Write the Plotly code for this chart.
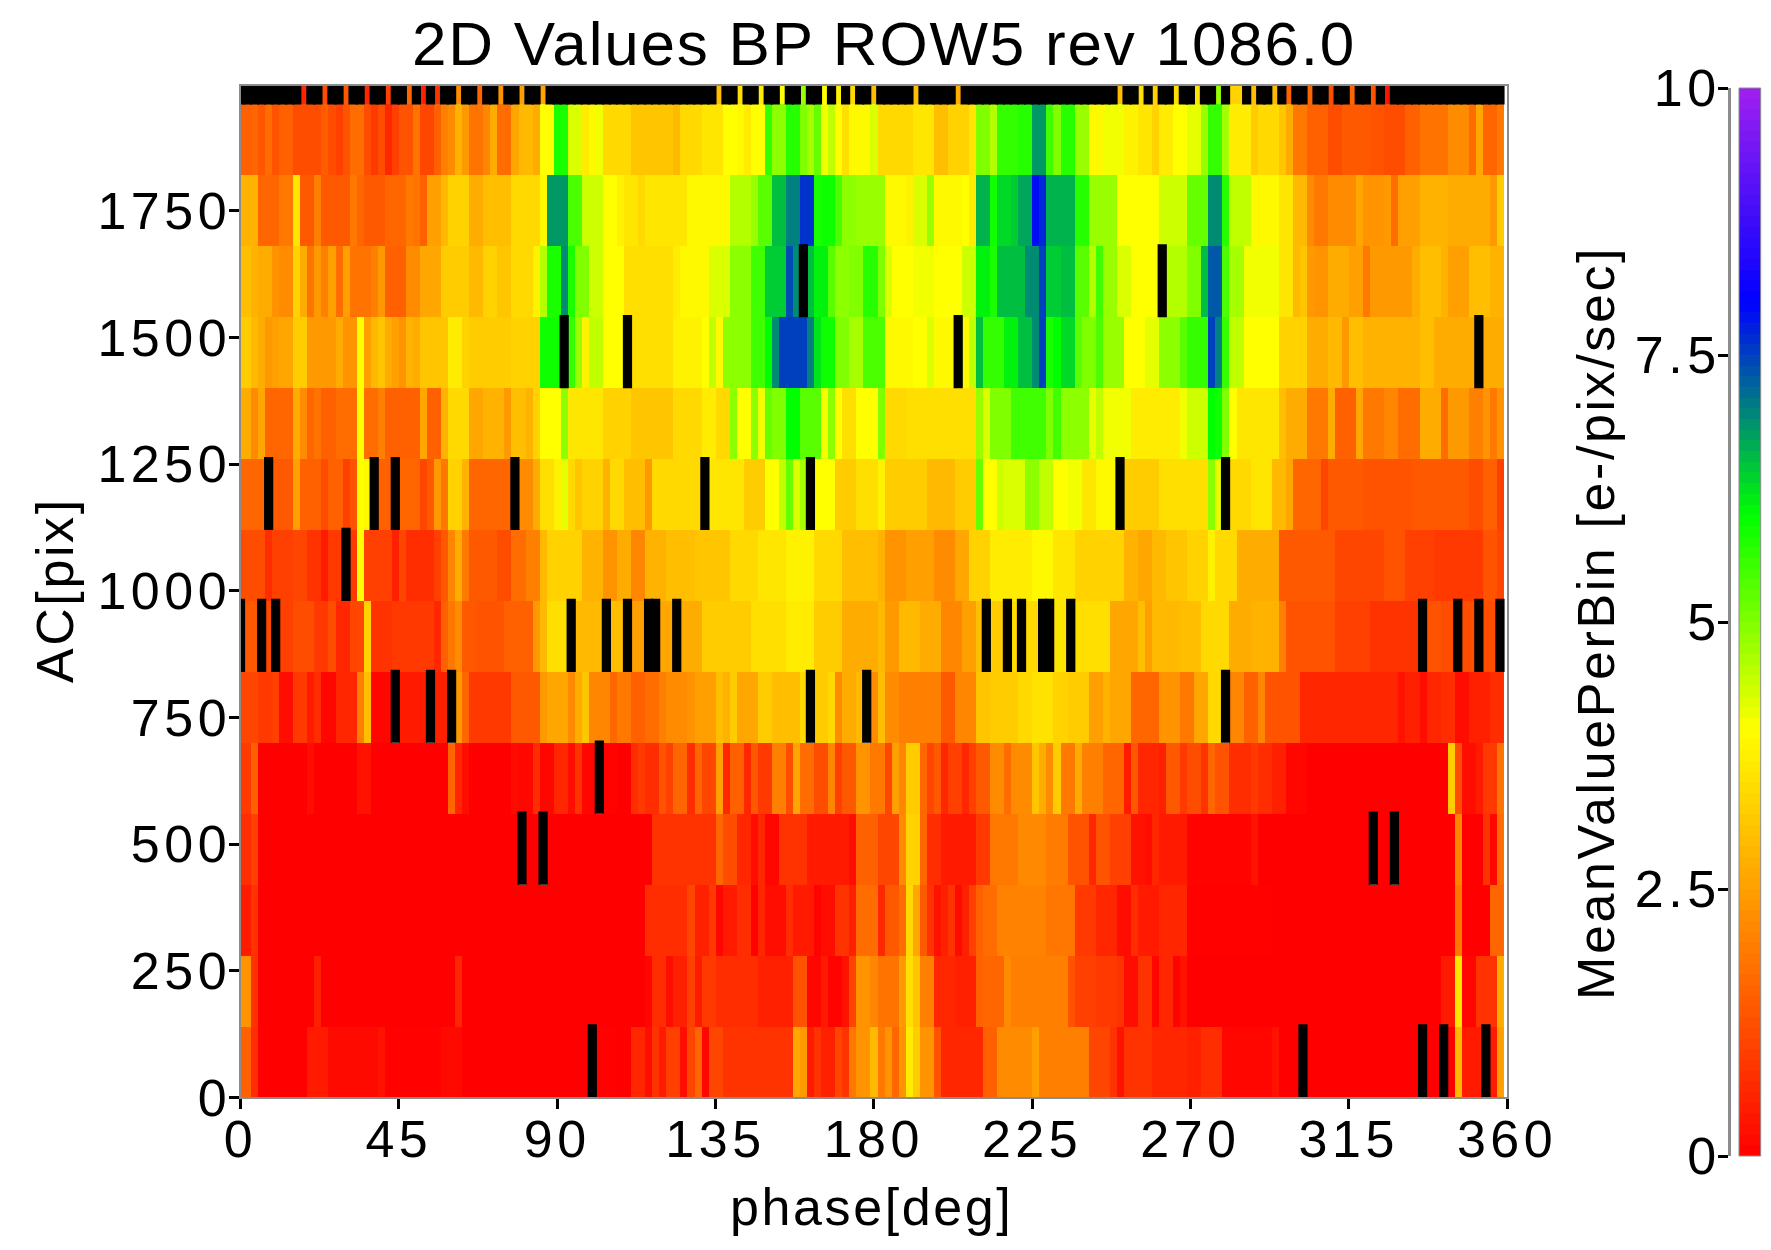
import numpy as np
import plotly.graph_objects as go

# Heat-map grid: 180 phase bins of 2 deg, AC rows of 140 pix
phase_bins = list(range(0, 360, 2))
ac_step = 140
title_text = "2D Values BP ROW5 rev 1086.0"
x_title = "phase[deg]"
y_title = "AC[pix]"
scale_title = "MeanValuePerBin [e-/pix/sec]"

# Every row is a list of (first phase bin, mean value); the value holds until the next entry
row_00 = [(0,1.5),(2,0.7),(3,0),(10,0.4),(13,0.15),(20,0.3),(21,0.03),(29,0.15),(32,0),(51,0.03),(54,0),(56,0.6),(58,0.2),(59,0.8),(60,0.4),(61,1.0),(63,0.2),(64,1.1),(65,1.6),(66,0.1),(67,1.1),(69,0.8),(79,2.6),(80,2.4),(81,0.4),(82,0.8),(83,0.5),(85,1.1),(86,0.8),(87,1.9),(88,2.3),(90,2.9),(91,1.9),(92,2.3),(93,1.6),(94,2.3),(95,3.7),(96,3.2),(97,2.3),(99,1.3),(100,0.6),(106,1.5),(108,2.2),(113,2.5),(114,2.0),(121,1.1),(124,0.8),(125,0.3),(126,0.8),(130,0.6),(135,0.5),(137,0.7),(140,0.1),(147,0.3),(148,0),(173,2.9),(174,0.4),(179,2.5)]
row_01 = [(0,2.3),(2,0.8),(3,0),(11,0.5),(12,0),(31,0.6),(32,0),(58,0.1),(59,0.7),(61,0.2),(62,0.5),(64,1.0),(65,0.4),(66,0.9),(68,0.7),(74,0.5),(79,1.3),(81,0.1),(83,0.4),(84,0.05),(86,0.3),(87,1.1),(88,2.3),(90,2.1),(91,1.8),(94,2.4),(95,3.5),(96,3.1),(97,2.0),(99,0.6),(102,0.5),(105,1.5),(106,1.6),(109,2.2),(110,2.0),(118,1.3),(119,1.0),(122,0.9),(125,0.8),(126,0.2),(128,0.8),(130,0.1),(131,0.6),(133,0.05),(134,0.3),(135,0),(171,0.4),(173,3.6),(174,0.1),(176,0.8),(179,2.7)]
row_02 = [(0,0.4),(2,0.8),(3,0),(58,0.7),(64,1.1),(65,0.5),(67,0.9),(68,0.1),(69,0.4),(71,0.7),(73,0.03),(74,0.6),(75,0.2),(78,0.7),(79,0.4),(82,0.05),(83,0.2),(85,0.8),(87,0.5),(88,1.7),(91,0.6),(92,1.4),(94,1.7),(95,3.4),(96,2.6),(97,1.4),(98,0.8),(99,0.3),(100,0.5),(101,0.8),(102,0.15),(103,0.5),(104,1.0),(105,1.5),(106,1.7),(108,2.05),(115,1.85),(119,0.9),(122,0.6),(125,0.2),(127,0.7),(128,0.4),(131,0.6),(135,0.03),(147,0),(173,1.9),(174,0),(178,1.6)]
row_03 = [(0,0.7),(2,1.0),(3,0),(59,0.8),(68,1.6),(69,1.2),(71,0.6),(73,0.2),(74,0.6),(75,0.1),(77,0.8),(81,0.4),(87,0.2),(88,1.5),(91,1.1),(94,2.2),(95,3.3),(97,1.6),(98,0.7),(100,0.4),(105,0.9),(107,1.9),(111,2.15),(115,1.95),(118,1.3),(121,0.6),(122,1.3),(124,1.0),(127,0.3),(129,0.2),(130,0.6),(131,0.4),(135,0.05),(144,0.3),(145,0),(173,2.1),(174,0),(177,0.8),(178,0.1),(179,1.7)]
row_04 = [(0,0.9),(2,1.5),(3,0),(10,0.2),(11,0),(17,0.3),(19,0),(30,1.6),(31,0.6),(32,0.2),(33,0),(39,0.15),(40,0.1),(42,0.7),(43,0.1),(45,0.6),(47,0.2),(48,0.8),(49,0.1),(52,0.05),(54,0),(56,0.7),(57,0.9),(58,0.7),(60,1.3),(61,1.0),(62,1.6),(64,0.7),(65,1.6),(66,1.1),(68,2.5),(69,0.6),(70,1.5),(72,0.6),(73,1.4),(74,0.9),(76,2.0),(78,1.2),(79,2.6),(80,1.7),(82,1.2),(84,2.1),(85,1.0),(86,1.4),(88,2.3),(90,1.9),(92,1.1),(93,2.5),(94,2.1),(95,3.2),(97,1.6),(98,1.1),(99,1.4),(100,0.6),(101,1.0),(103,0.6),(104,1.0),(105,1.4),(107,2.2),(109,1.7),(110,2.2),(113,3.1),(114,2.7),(115,2.2),(116,3.2),(117,1.9),(119,2.7),(120,2.0),(123,1.6),(126,0.4),(127,1.4),(128,0.6),(131,0.5),(132,1.4),(134,0.9),(135,1.2),(137,0.8),(138,1.6),(139,1.3),(141,0.7),(144,0.9),(145,0.7),(147,0.5),(149,0.1),(152,0),(172,3.2),(173,1.2),(174,0.2),(176,0.4),(177,0.9),(179,1.8)]
row_05 = [(0,1.1),(3,0.9),(5,1.0),(6,0.2),(8,0.9),(10,0.4),(11,0.7),(12,0.1),(14,0.6),(17,2.0),(18,3.0),(19,0.1),(23,0.4),(28,0.5),(31,2.4),(32,1.6),(33,0.9),(39,1.4),(43,2.4),(44,2.6),(47,2.2),(48,2.7),(49,3.1),(50,2.1),(53,1.6),(54,1.9),(56,1.5),(58,1.7),(60,2.0),(61,2.2),(64,2.3),(65,2.5),(68,3.0),(69,2.8),(70,3.2),(71,2.6),(74,3.2),(76,3.0),(80,3.4),(82,3.2),(84,3.4),(85,2.2),(86,2.7),(88,2.9),(90,2.2),(91,3.0),(92,2.2),(94,2.0),(100,1.4),(102,2.1),(105,3.1),(107,3.2),(111,3.4),(113,3.55),(116,3.3),(118,3.2),(121,2.5),(123,2.8),(124,2.6),(127,1.6),(131,2.3),(134,1.9),(136,2.6),(138,3.4),(141,2.1),(143,1.5),(145,2.1),(146,1.3),(151,0.6),(165,0.3),(166,0.5),(168,0.2),(169,0.6),(171,0.7),(173,0.2),(175,0.5),(178,0.7)]
row_06 = [(0,1.4),(4,1.1),(6,1.0),(8,1.2),(11,0.9),(13,1.2),(14,0.6),(16,1.1),(18,3.3),(19,0.8),(22,0.9),(28,0.6),(29,1.5),(30,1.9),(31,2.2),(32,1.4),(34,1.3),(38,1.5),(42,2.4),(43,2.9),(44,3.5),(48,2.9),(53,3.0),(56,2.5),(60,2.6),(63,2.7),(66,3.2),(73,3.5),(78,3.7),(82,3.2),(86,2.7),(91,2.9),(92,2.4),(94,2.9),(97,2.7),(100,2.1),(103,2.5),(105,3.0),(107,3.2),(110,3.5),(112,3.4),(116,3.6),(119,3.5),(124,2.6),(128,3.0),(129,2.5),(130,2.9),(134,3.0),(137,3.4),(141,2.7),(144,2.8),(148,2.0),(149,1.3),(156,1.0),(161,0.8),(169,1.3),(171,1.2)]
row_07 = [(0,1.2),(4,0.7),(5,1.0),(8,1.1),(10,0.8),(12,0.4),(13,0.9),(16,0.9),(17,4.0),(18,1.0),(22,0.5),(23,1.1),(24,0.7),(28,1.0),(29,1.4),(30,2.1),(31,2.7),(32,1.9),(33,1.4),(37,1.2),(39,1.7),(41,2.0),(43,2.9),(44,3.3),(49,2.8),(52,2.3),(54,2.7),(56,2.1),(58,2.8),(61,3.0),(65,3.1),(70,3.4),(74,3.6),(78,3.8),(82,3.4),(86,3.0),(91,2.8),(92,2.3),(95,2.5),(99,2.2),(102,2.6),(104,3.3),(107,3.7),(113,3.9),(116,3.6),(119,3.3),(126,2.8),(128,2.6),(130,2.9),(132,3.1),(135,3.3),(138,3.8),(139,3.4),(142,2.7),(148,1.4),(156,1.1),(163,1.3),(166,1.0),(170,0.9),(177,1.3),(179,1.1)]
row_08 = [(0,1.6),(5,1.4),(8,2.5),(9,1.5),(12,1.2),(13,1.5),(15,1.0),(16,1.3),(17,4.0),(18,3.9),(20,1.5),(23,1.6),(26,1.1),(27,1.4),(28,2.4),(29,1.9),(30,3.3),(32,2.8),(33,1.6),(40,2.2),(42,2.7),(43,3.5),(45,3.8),(46,4.2),(47,3.4),(48,3.1),(49,3.3),(52,2.8),(53,3.4),(55,3.0),(58,2.4),(59,3.4),(67,3.6),(72,3.2),(75,4.0),(77,4.5),(78,5.2),(79,4.3),(80,4.7),(82,4.0),(85,3.2),(88,3.5),(91,3.8),(92,3.2),(98,2.9),(102,3.2),(105,5.2),(106,4.0),(108,4.4),(109,4.3),(112,4.9),(114,4.5),(116,4.0),(118,4.1),(120,3.6),(122,3.9),(126,3.2),(131,3.5),(138,4.9),(139,4.2),(141,3.4),(144,3.6),(147,2.9),(149,2.6),(150,1.6),(154,1.1),(155,1.4),(160,1.3),(167,1.4),(175,1.2),(177,1.5),(179,1.0)]
row_09 = [(0,2.7),(2,2.2),(3,2.6),(4,1.6),(8,2.7),(9,2.2),(10,1.6),(11,1.8),(12,1.5),(14,1.7),(17,4.0),(18,1.7),(20,2.0),(21,1.5),(26,2.6),(27,1.5),(29,2.8),(30,3.4),(33,2.6),(35,2.8),(38,2.4),(39,3.0),(41,2.8),(42,3.3),(43,4.0),(46,4.9),(47,3.6),(52,3.3),(56,3.1),(62,3.4),(66,3.7),(68,3.4),(70,4.9),(71,4.0),(73,4.9),(74,4.1),(75,5.2),(76,5.0),(78,6.0),(80,5.3),(83,4.1),(84,4.9),(85,4.0),(86,3.5),(88,4.0),(91,5.0),(92,3.4),(95,3.5),(105,4.8),(106,4.3),(107,5.0),(110,5.5),(115,5.0),(116,5.5),(117,4.9),(121,4.2),(122,4.5),(123,4.1),(127,3.7),(134,4.1),(135,4.4),(138,6.0),(139,5.9),(140,5.0),(141,4.0),(142,3.6),(148,3.0),(149,2.7),(152,1.9),(155,2.7),(156,1.5),(159,2.6),(160,1.9),(163,2.1),(165,1.7),(168,2.7),(171,1.7),(172,2.4),(175,2.0),(177,2.3),(178,1.9),(179,2.3)]
row_10 = [(0,3.2),(2,2.9),(3,2.7),(4,2.4),(5,2.5),(6,2.6),(8,3.2),(10,2.4),(14,2.7),(15,2.3),(17,4.0),(18,2.5),(19,2.9),(20,3.1),(21,2.7),(22,2.5),(23,2.3),(24,2.8),(25,2.7),(26,3.1),(30,3.7),(32,3.3),(33,3.2),(39,3.3),(43,5.9),(47,5.6),(48,4.8),(49,3.8),(50,4.5),(52,4.0),(56,3.5),(62,3.8),(66,4.0),(67,4.5),(68,3.9),(69,4.9),(73,5.5),(75,6.0),(76,6.9),(77,7.5),(81,7.0),(82,6.2),(83,5.9),(85,5.0),(87,4.7),(89,5.4),(92,3.9),(96,4.0),(98,4.3),(99,3.9),(104,4.5),(105,6.5),(106,5.6),(109,6.1),(111,6.5),(113,6.9),(114,7.5),(115,5.8),(116,6.0),(117,6.3),(119,5.3),(120,5.0),(122,5.4),(123,4.8),(126,4.0),(129,4.2),(131,4.9),(134,5.3),(135,5.6),(138,7.5),(139,7.0),(140,5.6),(141,4.5),(143,4.0),(148,3.3),(152,2.7),(155,2.9),(157,2.4),(158,3.0),(160,2.8),(168,3.0),(170,2.7)]
row_11 = [(0,3.0),(2,2.8),(3,2.7),(5,2.3),(6,2.2),(8,3.3),(9,2.7),(10,1.8),(11,2.4),(12,2.0),(13,2.5),(14,1.7),(15,2.5),(16,1.8),(19,2.0),(20,2.4),(21,1.5),(24,2.2),(26,2.6),(29,3.2),(33,2.9),(35,3.3),(37,3.1),(39,3.4),(42,3.8),(43,4.6),(44,5.8),(46,6.9),(47,5.8),(48,5.0),(50,4.4),(52,4.0),(55,3.5),(62,3.7),(63,3.9),(67,4.3),(70,4.9),(73,5.5),(75,6.4),(78,7.4),(79,6.9),(81,6.5),(82,6.1),(84,5.3),(85,4.9),(87,5.0),(89,5.7),(91,5.0),(92,4.3),(93,4.0),(96,4.1),(99,4.0),(103,4.4),(105,6.1),(107,5.8),(108,6.5),(112,6.9),(114,7.5),(115,6.4),(117,6.5),(119,5.3),(121,4.6),(122,5.5),(123,4.8),(125,4.3),(127,4.0),(132,4.6),(135,5.0),(137,6.5),(138,7.3),(140,5.4),(141,4.7),(143,4.1),(148,3.6),(150,2.9),(151,3.1),(152,2.4),(153,2.3),(155,2.7),(158,2.5),(160,1.9),(161,2.4),(167,2.7),(168,3.0),(171,2.8),(172,2.5),(175,3.0),(178,2.8)]
row_12 = [(0,2.8),(3,1.6),(6,1.9),(8,3.6),(9,1.4),(11,2.0),(12,1.4),(16,1.9),(17,1.6),(18,1.4),(21,1.6),(24,1.9),(25,1.8),(26,1.5),(27,2.5),(29,2.9),(30,3.3),(33,2.7),(35,3.0),(39,3.4),(43,3.9),(44,6.8),(47,5.4),(49,4.4),(52,4.0),(54,3.8),(55,3.6),(57,3.4),(58,3.6),(64,3.9),(70,4.6),(73,4.8),(74,5.3),(76,6.5),(78,7.0),(80,7.6),(82,5.8),(83,5.9),(85,5.4),(86,4.9),(88,4.8),(92,3.9),(95,3.8),(96,4.3),(98,4.8),(99,3.9),(103,4.0),(104,3.7),(105,6.6),(107,5.9),(108,6.3),(110,6.4),(111,6.7),(113,7.9),(114,7.7),(115,6.6),(119,5.7),(121,4.8),(125,4.0),(131,4.4),(135,5.2),(138,6.9),(140,5.7),(141,4.5),(144,3.9),(148,3.6),(150,2.9),(152,2.2),(153,1.9),(155,2.2),(159,2.6),(160,2.3),(163,2.4),(164,1.7),(165,2.5),(168,2.8),(172,2.7),(178,2.4),(179,3.2)]
row_13 = [(0,1.5),(2,1.6),(3,1.35),(4,1.7),(5,1.3),(6,1.5),(8,1.2),(12,1.45),(13,1.2),(14,1.0),(15,1.3),(16,1.7),(18,1.2),(19,0.9),(20,1.2),(21,0.6),(22,1.0),(23,1.3),(25,1.8),(26,1.1),(28,1.5),(29,2.0),(30,2.2),(31,2.8),(32,2.4),(33,1.8),(35,2.1),(36,2.7),(37,1.7),(39,2.6),(40,2.9),(42,2.7),(43,4.0),(45,5.8),(47,4.3),(49,3.7),(50,3.9),(51,4.1),(52,3.4),(56,3.1),(62,2.9),(63,3.4),(66,3.6),(69,4.0),(71,3.9),(72,3.7),(73,4.0),(75,5.6),(76,4.9),(78,5.7),(80,5.0),(81,4.7),(82,5.2),(83,4.1),(84,4.5),(85,4.0),(86,3.5),(87,3.9),(90,4.3),(91,3.4),(96,3.6),(99,3.0),(101,3.3),(104,3.6),(105,5.0),(107,4.6),(108,5.6),(111,5.7),(113,6.8),(115,5.5),(116,5.0),(117,5.7),(119,4.8),(121,3.9),(123,4.1),(126,3.8),(128,3.6),(130,3.3),(131,3.7),(133,4.0),(135,4.2),(137,4.8),(138,5.6),(140,4.7),(141,3.7),(144,3.2),(145,3.4),(148,3.1),(149,2.7),(150,1.9),(152,1.5),(155,1.2),(157,1.4),(161,1.3),(163,1.2),(166,1.5),(168,1.8),(172,2.2),(175,1.7),(176,2.6),(177,1.6),(179,1.9)]
# Only a narrow strip of the top row is inside the AC range, and most of its bins are empty
row_14 = [(9,0.6),(10,None),(12,1.2),(13,None),(15,1.4),(16,None),(18,0.6),(19,None),(21,1.0),(22,None),(24,1.6),(25,None),(26,0.5),(27,None),(28,0.8),(29,None),(31,2.2),(32,None),(34,1.6),(35,None),(37,2.3),(38,None),(40,2.5),(41,None),(43,2.6),(44,None),(68,3.0),(69,None),(71,3.5),(72,None),(74,3.7),(75,None),(77,4.0),(78,None),(80,4.8),(81,None),(83,4.0),(84,None),(85,3.8),(86,None),(87,3.4),(88,None),(90,3.0),(91,None),(96,3.0),(97,None),(102,2.7),(103,None),(125,3.0),(126,None),(128,3.5),(129,None),(130,3.3),(131,None),(133,3.5),(134,None),(136,3.6),(137,None),(139,4.8),(140,None),(141,3.3),(143,None),(144,3.0),(145,None),(147,2.9),(148,None),(149,1.5),(150,None),(152,1.6),(153,None),(155,1.2),(156,None),(158,1.6),(159,None),(161,1.3),(162,None),(163,0.3),(164,None)]
all_rows = [row_00, row_01, row_02, row_03, row_04, row_05, row_06, row_07,
            row_08, row_09, row_10, row_11, row_12, row_13, row_14]

# Empty bins of each full row, by row number
empty_bins = {
    0: [50, 151, 168, 171, 177],
    3: [40, 43, 161, 164],
    4: [51],
    5: [22, 27, 30, 81, 89, 140],
    6: [0, 3, 5, 47, 52, 55, 58, 59, 62, 106, 109, 111, 114, 115, 118, 168, 173, 176, 179],
    7: [15],
    8: [4, 19, 22, 39, 66, 81, 125, 140],
    10: [46, 55, 102, 176],
    11: [80, 131],
}

# Colour ramp of the value scale
z_min, z_max = 0, 10
ramp_stops = [[0.0, "rgb(255,0,0)"], [0.4, "rgb(255,255,0)"], [0.6, "rgb(0,255,0)"],
              [0.8, "rgb(0,0,255)"], [1.0, "rgb(160,32,240)"]]
ramp_levels = np.arange(0.05, 10, 0.1)

x_ticks = [0, 45, 90, 135, 180, 225, 270, 315, 360]
y_ticks = [0, 250, 500, 750, 1000, 1250, 1500, 1750]
scale_ticks = [0, 2.5, 5, 7.5, 10]
scale_labels = ["0", "2.5", "5", "7.5", "10"]


def expand(segments, n_bins):
    """Turn (first bin, value) runs into one value per phase bin."""
    cells = [None] * n_bins
    for (start, value), following in zip(segments, segments[1:] + [(n_bins, None)]):
        cells[start:following[0]] = [value] * (following[0] - start)
    return cells


z = [expand(r, len(phase_bins)) for r in all_rows]
for r, bins in empty_bins.items():
    for b in bins:
        z[r][b] = None
ac_centres = [ac_step * (i + 0.5) for i in range(len(z))]

# Empty bins are painted as black bars slightly fatter than a cell
empty_x, empty_base = [], []
for r, row in enumerate(z):
    for b, value in enumerate(row):
        if value is None:
            empty_x.append(phase_bins[b])
            empty_base.append(ac_step * r + 2)

W, H = 1771, 1250
GREY = "#8c8c8c"
FONT = "Liberation Sans"

fig = go.Figure()
fig.add_trace(go.Heatmap(x=phase_bins, y=ac_centres, z=z, zmin=z_min, zmax=z_max,
                         colorscale=ramp_stops, showscale=False, hoverongaps=False))
fig.add_trace(go.Bar(x=empty_x, y=[ac_step] * len(empty_x), base=empty_base, width=2,
                     marker=dict(color="black", line=dict(color="black", width=2.2)),
                     showlegend=False, hoverinfo="skip"))
fig.add_trace(go.Heatmap(x=[0, 1], y=ramp_levels, z=[[v, v] for v in ramp_levels],
                         zmin=z_min, zmax=z_max, colorscale=ramp_stops, showscale=False,
                         xaxis="x2", yaxis="y2", hoverinfo="skip"))

tick_font = dict(family=FONT, size=52, color="black")
title_font = dict(family=FONT, size=52, color="black")


def side_label(text, px, py, angle=0):
    """Axis caption placed at a pixel position of the page."""
    return dict(text=text, xref="paper", yref="paper", x=px / W, y=1 - py / H,
                xanchor="center", yanchor="middle", textangle=angle,
                showarrow=False, font=title_font)


fig.update_layout(
    width=W, height=H, autosize=False,
    margin=dict(l=0, r=0, t=0, b=0, autoexpand=False),
    paper_bgcolor="white", plot_bgcolor="white",
    showlegend=False, barmode="overlay",
    title=dict(text=title_text, font=dict(family=FONT, size=62, color="black"),
               x=884 / W, xanchor="center", xref="paper",
               y=1 - 43 / H, yanchor="middle", yref="paper", automargin=False),
    xaxis=dict(domain=[240.5 / W, 1507 / W], range=[0, 360], anchor="y", automargin=False,
               tickmode="array", tickvals=x_ticks, ticks="outside", ticklen=10,
               tickwidth=3, tickcolor="black", tickfont=tick_font, ticklabelstandoff=-15,
               showline=True, linecolor=GREY, linewidth=2, mirror=True,
               showgrid=False, zeroline=False),
    yaxis=dict(domain=[1 - 1097.3 / H, 1 - 85.7 / H], range=[0, 1997], anchor="x", automargin=False,
               tickmode="array", tickvals=y_ticks, ticks="outside", ticklen=10,
               tickwidth=3, tickcolor="black", tickfont=tick_font, ticklabelstandoff=-13,
               showline=True, linecolor=GREY, linewidth=2, mirror=True,
               showgrid=False, zeroline=False),
    xaxis2=dict(domain=[1739 / W, 1760.7 / W], range=[0, 1], anchor="y2", automargin=False,
                showticklabels=False, ticks="", showgrid=False, zeroline=False),
    yaxis2=dict(domain=[1 - 1156 / H, 1 - 88 / H], range=[z_min, z_max], automargin=False,
                anchor="free", position=1729 / W, side="left",
                tickmode="array", tickvals=scale_ticks, ticktext=scale_labels,
                ticks="outside", ticklen=10, tickwidth=3, tickcolor="black", ticklabelstandoff=-13,
                tickfont=tick_font, showline=True, linecolor=GREY, linewidth=3,
                showgrid=False, zeroline=False),
    annotations=[side_label(x_title, 871, 1207),
                 side_label(y_title, 55, 590, -90),
                 side_label(scale_title, 1595, 623.5, -90)],
    shapes=[dict(type="rect", xref="x2 domain", yref="y2 domain", x0=0, x1=1, y0=0, y1=1,
                 line=dict(color=GREY, width=1), layer="above")],
)

# Wider character spacing for all the labels
spacing_css = (".xtick text,.ytick text,.y2tick text{letter-spacing:4.5px}"
               ".annotation-text{letter-spacing:2.6px}"
               ".gtitle{letter-spacing:1.8px}")
fig.write_html("out.html", post_script=(
    "var s=document.createElement('style');s.textContent='" + spacing_css + "';"
    "document.head.appendChild(s);"))
